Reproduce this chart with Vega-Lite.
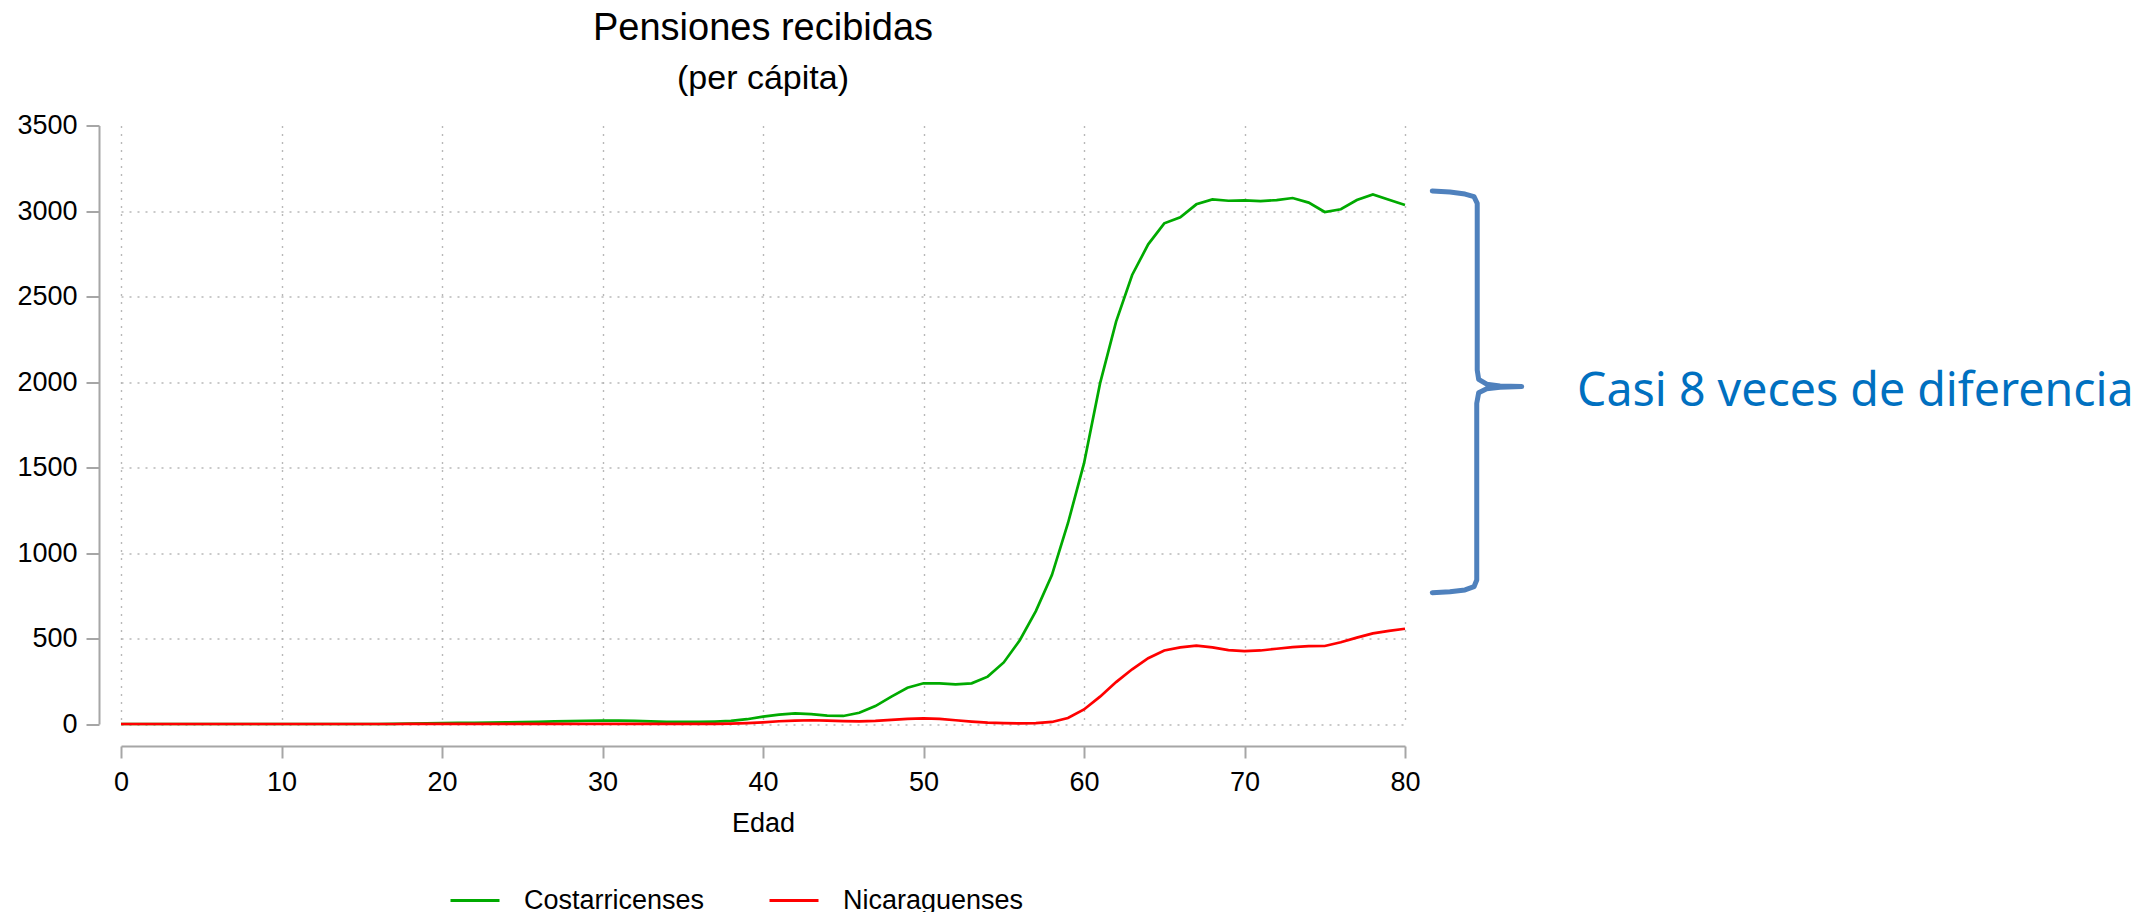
{
  "$schema": "https://vega.github.io/schema/vega-lite/v6.json",
  "autosize": "none",
  "width": 1284,
  "height": 598.5,
  "padding": {"left": 121, "top": 125.5, "right": 734, "bottom": 188},
  "background": "white",
  "config": {"view": {"stroke": null}, "font": "Liberation Sans"},
  "title": {
    "text": "Pensiones recibidas",
    "subtitle": "(per cápita)",
    "anchor": "middle",
    "frame": "group",
    "font": "Liberation Sans",
    "fontSize": 38,
    "fontWeight": "normal",
    "color": "#000000",
    "subtitleFont": "Liberation Sans",
    "subtitleFontSize": 34,
    "subtitleColor": "#000000",
    "subtitlePadding": 14,
    "offset": 16
  },
  "datasets": {
    "pensiones": [
      {"edad": 0, "grupo": "Costarricenses", "valor": 0},
      {"edad": 1, "grupo": "Costarricenses", "valor": 0},
      {"edad": 2, "grupo": "Costarricenses", "valor": 0},
      {"edad": 3, "grupo": "Costarricenses", "valor": 0},
      {"edad": 4, "grupo": "Costarricenses", "valor": 0},
      {"edad": 5, "grupo": "Costarricenses", "valor": 0},
      {"edad": 6, "grupo": "Costarricenses", "valor": 0},
      {"edad": 7, "grupo": "Costarricenses", "valor": 0},
      {"edad": 8, "grupo": "Costarricenses", "valor": 0},
      {"edad": 9, "grupo": "Costarricenses", "valor": 0},
      {"edad": 10, "grupo": "Costarricenses", "valor": 0},
      {"edad": 11, "grupo": "Costarricenses", "valor": 0},
      {"edad": 12, "grupo": "Costarricenses", "valor": 0},
      {"edad": 13, "grupo": "Costarricenses", "valor": 0},
      {"edad": 14, "grupo": "Costarricenses", "valor": 0},
      {"edad": 15, "grupo": "Costarricenses", "valor": 0},
      {"edad": 16, "grupo": "Costarricenses", "valor": 0},
      {"edad": 17, "grupo": "Costarricenses", "valor": 1},
      {"edad": 18, "grupo": "Costarricenses", "valor": 3},
      {"edad": 19, "grupo": "Costarricenses", "valor": 4},
      {"edad": 20, "grupo": "Costarricenses", "valor": 5},
      {"edad": 21, "grupo": "Costarricenses", "valor": 6},
      {"edad": 22, "grupo": "Costarricenses", "valor": 7},
      {"edad": 23, "grupo": "Costarricenses", "valor": 8},
      {"edad": 24, "grupo": "Costarricenses", "valor": 9},
      {"edad": 25, "grupo": "Costarricenses", "valor": 11},
      {"edad": 26, "grupo": "Costarricenses", "valor": 13},
      {"edad": 27, "grupo": "Costarricenses", "valor": 15},
      {"edad": 28, "grupo": "Costarricenses", "valor": 17},
      {"edad": 29, "grupo": "Costarricenses", "valor": 19},
      {"edad": 30, "grupo": "Costarricenses", "valor": 20},
      {"edad": 31, "grupo": "Costarricenses", "valor": 20},
      {"edad": 32, "grupo": "Costarricenses", "valor": 18},
      {"edad": 33, "grupo": "Costarricenses", "valor": 15},
      {"edad": 34, "grupo": "Costarricenses", "valor": 13},
      {"edad": 35, "grupo": "Costarricenses", "valor": 12},
      {"edad": 36, "grupo": "Costarricenses", "valor": 12},
      {"edad": 37, "grupo": "Costarricenses", "valor": 14},
      {"edad": 38, "grupo": "Costarricenses", "valor": 18},
      {"edad": 39, "grupo": "Costarricenses", "valor": 28},
      {"edad": 40, "grupo": "Costarricenses", "valor": 43},
      {"edad": 41, "grupo": "Costarricenses", "valor": 55},
      {"edad": 42, "grupo": "Costarricenses", "valor": 62},
      {"edad": 43, "grupo": "Costarricenses", "valor": 58},
      {"edad": 44, "grupo": "Costarricenses", "valor": 49},
      {"edad": 45, "grupo": "Costarricenses", "valor": 47},
      {"edad": 46, "grupo": "Costarricenses", "valor": 66},
      {"edad": 47, "grupo": "Costarricenses", "valor": 105},
      {"edad": 48, "grupo": "Costarricenses", "valor": 160},
      {"edad": 49, "grupo": "Costarricenses", "valor": 212},
      {"edad": 50, "grupo": "Costarricenses", "valor": 238},
      {"edad": 51, "grupo": "Costarricenses", "valor": 238},
      {"edad": 52, "grupo": "Costarricenses", "valor": 232},
      {"edad": 53, "grupo": "Costarricenses", "valor": 238},
      {"edad": 54, "grupo": "Costarricenses", "valor": 277},
      {"edad": 55, "grupo": "Costarricenses", "valor": 360},
      {"edad": 56, "grupo": "Costarricenses", "valor": 490},
      {"edad": 57, "grupo": "Costarricenses", "valor": 660},
      {"edad": 58, "grupo": "Costarricenses", "valor": 871},
      {"edad": 59, "grupo": "Costarricenses", "valor": 1174},
      {"edad": 60, "grupo": "Costarricenses", "valor": 1524},
      {"edad": 61, "grupo": "Costarricenses", "valor": 1992},
      {"edad": 62, "grupo": "Costarricenses", "valor": 2353},
      {"edad": 63, "grupo": "Costarricenses", "valor": 2626},
      {"edad": 64, "grupo": "Costarricenses", "valor": 2805},
      {"edad": 65, "grupo": "Costarricenses", "valor": 2928},
      {"edad": 66, "grupo": "Costarricenses", "valor": 2963},
      {"edad": 67, "grupo": "Costarricenses", "valor": 3039},
      {"edad": 68, "grupo": "Costarricenses", "valor": 3068},
      {"edad": 69, "grupo": "Costarricenses", "valor": 3060},
      {"edad": 70, "grupo": "Costarricenses", "valor": 3062},
      {"edad": 71, "grupo": "Costarricenses", "valor": 3058},
      {"edad": 72, "grupo": "Costarricenses", "valor": 3064},
      {"edad": 73, "grupo": "Costarricenses", "valor": 3076},
      {"edad": 74, "grupo": "Costarricenses", "valor": 3049},
      {"edad": 75, "grupo": "Costarricenses", "valor": 2994},
      {"edad": 76, "grupo": "Costarricenses", "valor": 3010},
      {"edad": 77, "grupo": "Costarricenses", "valor": 3064},
      {"edad": 78, "grupo": "Costarricenses", "valor": 3097},
      {"edad": 79, "grupo": "Costarricenses", "valor": 3066},
      {"edad": 80, "grupo": "Costarricenses", "valor": 3035},
      {"edad": 0, "grupo": "Nicaraguenses", "valor": 0},
      {"edad": 1, "grupo": "Nicaraguenses", "valor": 0},
      {"edad": 2, "grupo": "Nicaraguenses", "valor": 0},
      {"edad": 3, "grupo": "Nicaraguenses", "valor": 0},
      {"edad": 4, "grupo": "Nicaraguenses", "valor": 0},
      {"edad": 5, "grupo": "Nicaraguenses", "valor": 0},
      {"edad": 6, "grupo": "Nicaraguenses", "valor": 0},
      {"edad": 7, "grupo": "Nicaraguenses", "valor": 0},
      {"edad": 8, "grupo": "Nicaraguenses", "valor": 0},
      {"edad": 9, "grupo": "Nicaraguenses", "valor": 0},
      {"edad": 10, "grupo": "Nicaraguenses", "valor": 0},
      {"edad": 11, "grupo": "Nicaraguenses", "valor": 0},
      {"edad": 12, "grupo": "Nicaraguenses", "valor": 0},
      {"edad": 13, "grupo": "Nicaraguenses", "valor": 0},
      {"edad": 14, "grupo": "Nicaraguenses", "valor": 0},
      {"edad": 15, "grupo": "Nicaraguenses", "valor": 0},
      {"edad": 16, "grupo": "Nicaraguenses", "valor": 0},
      {"edad": 17, "grupo": "Nicaraguenses", "valor": 0},
      {"edad": 18, "grupo": "Nicaraguenses", "valor": 1},
      {"edad": 19, "grupo": "Nicaraguenses", "valor": 1},
      {"edad": 20, "grupo": "Nicaraguenses", "valor": 1},
      {"edad": 21, "grupo": "Nicaraguenses", "valor": 1},
      {"edad": 22, "grupo": "Nicaraguenses", "valor": 1},
      {"edad": 23, "grupo": "Nicaraguenses", "valor": 1},
      {"edad": 24, "grupo": "Nicaraguenses", "valor": 1},
      {"edad": 25, "grupo": "Nicaraguenses", "valor": 1},
      {"edad": 26, "grupo": "Nicaraguenses", "valor": 1},
      {"edad": 27, "grupo": "Nicaraguenses", "valor": 1},
      {"edad": 28, "grupo": "Nicaraguenses", "valor": 1},
      {"edad": 29, "grupo": "Nicaraguenses", "valor": 1},
      {"edad": 30, "grupo": "Nicaraguenses", "valor": 1},
      {"edad": 31, "grupo": "Nicaraguenses", "valor": 1},
      {"edad": 32, "grupo": "Nicaraguenses", "valor": 1},
      {"edad": 33, "grupo": "Nicaraguenses", "valor": 1},
      {"edad": 34, "grupo": "Nicaraguenses", "valor": 1},
      {"edad": 35, "grupo": "Nicaraguenses", "valor": 1},
      {"edad": 36, "grupo": "Nicaraguenses", "valor": 1},
      {"edad": 37, "grupo": "Nicaraguenses", "valor": 1},
      {"edad": 38, "grupo": "Nicaraguenses", "valor": 2},
      {"edad": 39, "grupo": "Nicaraguenses", "valor": 5},
      {"edad": 40, "grupo": "Nicaraguenses", "valor": 10},
      {"edad": 41, "grupo": "Nicaraguenses", "valor": 16},
      {"edad": 42, "grupo": "Nicaraguenses", "valor": 20},
      {"edad": 43, "grupo": "Nicaraguenses", "valor": 22},
      {"edad": 44, "grupo": "Nicaraguenses", "valor": 20},
      {"edad": 45, "grupo": "Nicaraguenses", "valor": 17},
      {"edad": 46, "grupo": "Nicaraguenses", "valor": 15},
      {"edad": 47, "grupo": "Nicaraguenses", "valor": 18},
      {"edad": 48, "grupo": "Nicaraguenses", "valor": 24},
      {"edad": 49, "grupo": "Nicaraguenses", "valor": 30},
      {"edad": 50, "grupo": "Nicaraguenses", "valor": 33},
      {"edad": 51, "grupo": "Nicaraguenses", "valor": 30},
      {"edad": 52, "grupo": "Nicaraguenses", "valor": 22},
      {"edad": 53, "grupo": "Nicaraguenses", "valor": 14},
      {"edad": 54, "grupo": "Nicaraguenses", "valor": 8},
      {"edad": 55, "grupo": "Nicaraguenses", "valor": 5},
      {"edad": 56, "grupo": "Nicaraguenses", "valor": 4},
      {"edad": 57, "grupo": "Nicaraguenses", "valor": 5},
      {"edad": 58, "grupo": "Nicaraguenses", "valor": 12},
      {"edad": 59, "grupo": "Nicaraguenses", "valor": 35},
      {"edad": 60, "grupo": "Nicaraguenses", "valor": 85},
      {"edad": 61, "grupo": "Nicaraguenses", "valor": 160},
      {"edad": 62, "grupo": "Nicaraguenses", "valor": 245},
      {"edad": 63, "grupo": "Nicaraguenses", "valor": 320},
      {"edad": 64, "grupo": "Nicaraguenses", "valor": 385},
      {"edad": 65, "grupo": "Nicaraguenses", "valor": 430},
      {"edad": 66, "grupo": "Nicaraguenses", "valor": 448},
      {"edad": 67, "grupo": "Nicaraguenses", "valor": 458},
      {"edad": 68, "grupo": "Nicaraguenses", "valor": 448},
      {"edad": 69, "grupo": "Nicaraguenses", "valor": 432},
      {"edad": 70, "grupo": "Nicaraguenses", "valor": 426},
      {"edad": 71, "grupo": "Nicaraguenses", "valor": 430},
      {"edad": 72, "grupo": "Nicaraguenses", "valor": 440},
      {"edad": 73, "grupo": "Nicaraguenses", "valor": 450},
      {"edad": 74, "grupo": "Nicaraguenses", "valor": 455},
      {"edad": 75, "grupo": "Nicaraguenses", "valor": 456},
      {"edad": 76, "grupo": "Nicaraguenses", "valor": 478},
      {"edad": 77, "grupo": "Nicaraguenses", "valor": 505},
      {"edad": 78, "grupo": "Nicaraguenses", "valor": 530},
      {"edad": 79, "grupo": "Nicaraguenses", "valor": 545},
      {"edad": 80, "grupo": "Nicaraguenses", "valor": 557}
    ],
    "llave": [
      {"orden": 1, "x": 81.70, "y": 3117},
      {"orden": 2, "x": 82.80, "y": 3111},
      {"orden": 3, "x": 83.74, "y": 3099},
      {"orden": 4, "x": 84.30, "y": 3084},
      {"orden": 5, "x": 84.50, "y": 3045},
      {"orden": 6, "x": 84.50, "y": 2070},
      {"orden": 7, "x": 84.59, "y": 2016},
      {"orden": 8, "x": 85.09, "y": 1987},
      {"orden": 9, "x": 85.92, "y": 1977},
      {"orden": 10, "x": 87.27, "y": 1973},
      {"orden": 11, "x": 85.92, "y": 1969},
      {"orden": 12, "x": 85.09, "y": 1961},
      {"orden": 13, "x": 84.59, "y": 1937},
      {"orden": 14, "x": 84.47, "y": 1875},
      {"orden": 15, "x": 84.47, "y": 842},
      {"orden": 16, "x": 84.30, "y": 803},
      {"orden": 17, "x": 83.74, "y": 784},
      {"orden": 18, "x": 82.80, "y": 774},
      {"orden": 19, "x": 81.70, "y": 768}
    ]
  },
  "layer": [
    {
      "data": {"name": "pensiones"},
      "mark": {"type": "line", "strokeWidth": 2.7},
      "encoding": {
        "x": {
          "field": "edad",
          "type": "quantitative",
          "scale": {"domain": [0, 80], "zero": false, "nice": false},
          "axis": {
            "values": [0, 10, 20, 30, 40, 50, 60, 70, 80],
            "offset": 22,
            "title": "Edad",
            "titleFont": "Liberation Sans",
            "titleFontSize": 27,
            "titleFontWeight": "normal",
            "titleColor": "#000000",
            "titlePadding": 15,
            "domainColor": "#a6a6a6",
            "domainWidth": 2,
            "tickColor": "#a6a6a6",
            "tickWidth": 2,
            "tickSize": 12,
            "labelFont": "Liberation Sans",
            "labelFontSize": 27,
            "labelColor": "#000000",
            "labelPadding": 11,
            "labelFlush": false,
            "labelOverlap": false,
            "grid": true,
            "gridColor": "#b8b8b8",
            "gridWidth": 1.4,
            "gridDash": [2, 6]
          }
        },
        "y": {
          "field": "valor",
          "type": "quantitative",
          "scale": {"domain": [0, 3500], "zero": false, "nice": false},
          "axis": {
            "values": [0, 500, 1000, 1500, 2000, 2500, 3000, 3500],
            "format": "d",
            "offset": 22,
            "title": null,
            "domainColor": "#a6a6a6",
            "domainWidth": 2,
            "tickColor": "#a6a6a6",
            "tickWidth": 2,
            "tickSize": 13,
            "labelFont": "Liberation Sans",
            "labelFontSize": 27,
            "labelColor": "#000000",
            "labelPadding": 9,
            "labelFlush": false,
            "labelOverlap": false,
            "grid": true,
            "gridColor": "#b8b8b8",
            "gridWidth": 1.4,
            "gridDash": [2, 6],
            "gridOpacity": {"condition": {"test": "datum.value === 3500", "value": 0}, "value": 1}
          }
        },
        "color": {
          "field": "grupo",
          "type": "nominal",
          "scale": {"domain": ["Costarricenses", "Nicaraguenses"], "range": ["#00aa00", "#ff0000"]},
          "legend": {
            "title": null,
            "orient": "none",
            "direction": "horizontal",
            "legendX": 328,
            "legendY": 749,
            "padding": 0,
            "symbolType": "stroke",
            "symbolSize": 2401,
            "symbolStrokeWidth": 3,
            "labelFont": "Liberation Sans",
            "labelFontSize": 27,
            "labelColor": "#000000",
            "labelLimit": 0,
            "labelOffset": 23,
            "columnPadding": 58
          }
        }
      }
    },
    {
      "data": {"name": "llave"},
      "mark": {"type": "line", "stroke": "#4f81bd", "strokeWidth": 5, "strokeCap": "round", "strokeJoin": "round", "clip": false},
      "encoding": {
        "x": {"field": "x", "type": "quantitative", "title": "Edad", "scale": {"domain": [0, 80], "zero": false, "nice": false}},
        "y": {"field": "y", "type": "quantitative", "title": null, "scale": {"domain": [0, 3500], "zero": false, "nice": false}},
        "order": {"field": "orden", "type": "quantitative"}
      }
    },
    {
      "data": {"values": [{"x": 90.72, "y": 1860, "texto": "Casi 8 veces de diferencia"}]},
      "mark": {"type": "text", "font": "Noto Sans", "fontSize": 46.5, "color": "#0070c0", "align": "left", "baseline": "alphabetic", "clip": false},
      "encoding": {
        "x": {"field": "x", "type": "quantitative", "title": "Edad", "scale": {"domain": [0, 80], "zero": false, "nice": false}},
        "y": {"field": "y", "type": "quantitative", "title": null, "scale": {"domain": [0, 3500], "zero": false, "nice": false}},
        "text": {"field": "texto", "type": "nominal"}
      }
    }
  ]
}
